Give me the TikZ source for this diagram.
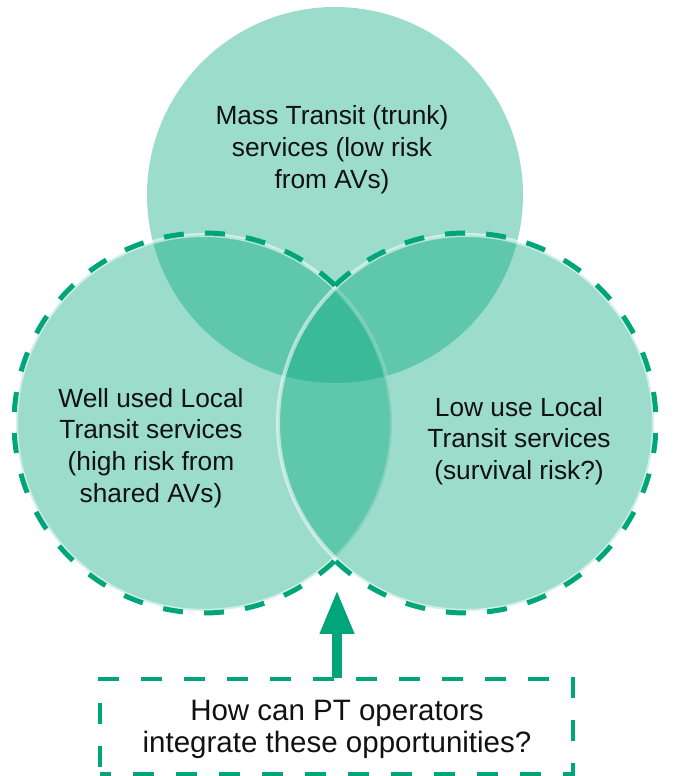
\documentclass[tikz,border=0pt]{standalone}
\usepackage{fontspec}
\setmainfont{Liberation Sans}
\usetikzlibrary{arrows.meta}
\definecolor{vgreen}{RGB}{0,166,122}
\definecolor{txt}{RGB}{17,17,17}
\tikzset{
  setcircle/.style={circle, minimum size=376pt, inner sep=0pt, fill=vgreen, fill opacity=0.39},
  whiteedge/.style={draw=white, draw opacity=0.55, line width=4pt},
  dashedge/.style={draw=vgreen, line width=5pt, dash pattern=on 20pt off 21.2pt},
  circtext/.style={align=center, inner sep=0pt, text=txt, font=\fontsize{26.3}{31.8}\selectfont},
  boxtext/.style={align=center, inner sep=0pt, text=txt, font=\fontsize{29.5}{32}\selectfont},
  qbox/.style={draw=vgreen, line width=4.8pt, dash pattern=on 21pt off 22pt, dash phase=10pt, minimum width=473pt, minimum height=95pt, inner sep=0pt},
}
\begin{document}
\begin{tikzpicture}[x=1pt,y=1pt]
\useasboundingbox (0,0) rectangle (673,776);
% circles
\node[setcircle] (topc) at (335,581) {};
\node[setcircle, whiteedge] (leftc) at (204,353) {};
\node[setcircle, whiteedge] (rightc) at (466,353) {};
% dashed outer outline of the two lower sets
\draw[dashedge] (leftc.center) ++(46.4:190pt) arc[start angle=46.4, end angle=313.6, radius=190pt];
\draw[dashedge] (rightc.center) ++(133.6:190pt) arc[start angle=133.6, end angle=-133.6, radius=190pt];
% texts
\node[circtext] (toptext) at (332,626) {Mass Transit (trunk)\\services (low risk\\from AVs)};
\node[circtext] (lefttext) at (151,328) {Well used Local\\Transit services\\(high risk from\\shared AVs)};
\node[circtext] (righttext) at (519,335) {Low use Local\\Transit services\\(survival risk?)};
% question box
\node[qbox] (qbox) at (336.5,49.5) {};
\node[boxtext] (qtext) at (337,46.5) {How can PT operators\\integrate these opportunities?};
% arrow
\coordinate (tip) at (337,186);
\draw[vgreen, line width=10pt, -{Triangle[length=44pt,width=32pt]}] (qbox.north -| tip) ++(0,-1) -- (tip);
\end{tikzpicture}
\end{document}
